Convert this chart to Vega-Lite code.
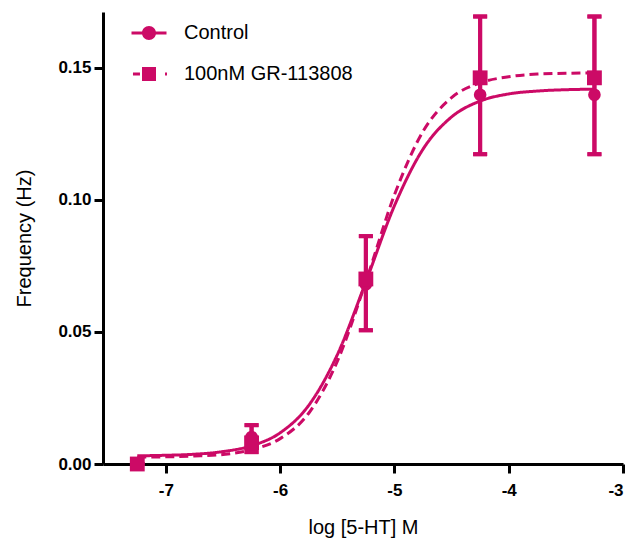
{
  "$schema": "https://vega.github.io/schema/vega-lite/v6.json",
  "width": 520,
  "height": 452,
  "autosize": {"type": "none"},
  "padding": {"left": 103, "top": 12, "right": 7, "bottom": 85},
  "background": "white",
  "config": {
    "view": {"stroke": null},
    "axis": {
      "grid": false,
      "domainColor": "black",
      "domainWidth": 3,
      "tickColor": "black",
      "tickWidth": 3,
      "tickSize": 9,
      "labelFont": "Liberation Sans",
      "labelFontWeight": "bold",
      "labelFontSize": 17,
      "labelColor": "black",
      "titleFont": "Liberation Sans",
      "titleFontWeight": "normal",
      "titleFontSize": 20,
      "titleColor": "black"
    }
  },
  "datasets": {
    "curves": [
      {"logc": -7.25, "freq": 0.0031, "series": "Control"},
      {"logc": -7.0, "freq": 0.0033, "series": "Control"},
      {"logc": -6.75, "freq": 0.0037, "series": "Control"},
      {"logc": -6.5, "freq": 0.0047, "series": "Control"},
      {"logc": -6.25, "freq": 0.0069, "series": "Control"},
      {"logc": -6.0, "freq": 0.0118, "series": "Control"},
      {"logc": -5.75, "freq": 0.0222, "series": "Control"},
      {"logc": -5.5, "freq": 0.0413, "series": "Control"},
      {"logc": -5.25, "freq": 0.0689, "series": "Control"},
      {"logc": -5.0, "freq": 0.0977, "series": "Control"},
      {"logc": -4.75, "freq": 0.1191, "series": "Control"},
      {"logc": -4.5, "freq": 0.1313, "series": "Control"},
      {"logc": -4.25, "freq": 0.1373, "series": "Control"},
      {"logc": -4.0, "freq": 0.1400, "series": "Control"},
      {"logc": -3.75, "freq": 0.1411, "series": "Control"},
      {"logc": -3.5, "freq": 0.1416, "series": "Control"},
      {"logc": -3.25, "freq": 0.1418, "series": "Control"},
      {"logc": -7.25, "freq": 0.0026, "series": "100nM GR-113808"},
      {"logc": -7.0, "freq": 0.0027, "series": "100nM GR-113808"},
      {"logc": -6.75, "freq": 0.0030, "series": "100nM GR-113808"},
      {"logc": -6.5, "freq": 0.0036, "series": "100nM GR-113808"},
      {"logc": -6.25, "freq": 0.0054, "series": "100nM GR-113808"},
      {"logc": -6.0, "freq": 0.0096, "series": "100nM GR-113808"},
      {"logc": -5.75, "freq": 0.0192, "series": "100nM GR-113808"},
      {"logc": -5.5, "freq": 0.0388, "series": "100nM GR-113808"},
      {"logc": -5.25, "freq": 0.0690, "series": "100nM GR-113808"},
      {"logc": -5.0, "freq": 0.1018, "series": "100nM GR-113808"},
      {"logc": -4.75, "freq": 0.1258, "series": "100nM GR-113808"},
      {"logc": -4.5, "freq": 0.1386, "series": "100nM GR-113808"},
      {"logc": -4.25, "freq": 0.1442, "series": "100nM GR-113808"},
      {"logc": -4.0, "freq": 0.1465, "series": "100nM GR-113808"},
      {"logc": -3.75, "freq": 0.1475, "series": "100nM GR-113808"},
      {"logc": -3.5, "freq": 0.1478, "series": "100nM GR-113808"},
      {"logc": -3.25, "freq": 0.1480, "series": "100nM GR-113808"}
    ],
    "points": [
      {"logc": -7.25, "freq": 0.0, "lo": 0.0, "hi": 0.0, "series": "Control"},
      {"logc": -6.25, "freq": 0.0102, "lo": 0.0045, "hi": 0.0147, "series": "Control"},
      {"logc": -5.25, "freq": 0.068, "lo": 0.0506, "hi": 0.0862, "series": "Control"},
      {"logc": -4.25, "freq": 0.1397, "lo": 0.1172, "hi": 0.1693, "series": "Control"},
      {"logc": -3.25, "freq": 0.1397, "lo": 0.1172, "hi": 0.1693, "series": "Control"},
      {"logc": -7.25, "freq": 0.0, "lo": 0.0, "hi": 0.0, "series": "100nM GR-113808"},
      {"logc": -6.25, "freq": 0.008, "lo": 0.0045, "hi": 0.0147, "series": "100nM GR-113808"},
      {"logc": -5.25, "freq": 0.070, "lo": 0.0506, "hi": 0.0862, "series": "100nM GR-113808"},
      {"logc": -4.25, "freq": 0.1461, "lo": 0.1172, "hi": 0.1693, "series": "100nM GR-113808"},
      {"logc": -3.25, "freq": 0.1461, "lo": 0.1172, "hi": 0.1693, "series": "100nM GR-113808"}
    ]
  },
  "encoding": {
    "x": {
      "field": "logc",
      "type": "quantitative",
      "scale": {"domain": [-7.55, -3], "nice": false, "zero": false},
      "axis": {
        "title": "log [5-HT] M",
        "values": [-7, -6, -5, -4, -3],
        "labelExpr": "'' + datum.value",
        "labelPadding": 9,
        "titlePadding": 19
      }
    },
    "y": {
      "field": "freq",
      "type": "quantitative",
      "scale": {"domain": [0, 0.171], "nice": false, "zero": false},
      "axis": {
        "title": "Frequency (Hz)",
        "values": [0, 0.05, 0.1, 0.15],
        "format": ".2f",
        "labelPadding": 3,
        "titlePadding": 23
      }
    }
  },
  "layer": [
    {
      "data": {"name": "curves"},
      "mark": {"type": "line", "color": "#CC0A66", "strokeWidth": 3, "interpolate": "monotone"},
      "encoding": {
        "detail": {"field": "series"},
        "strokeDash": {
          "field": "series",
          "type": "nominal",
          "scale": {"domain": ["Control", "100nM GR-113808"], "range": [[1, 0], [9, 5]]},
          "legend": null
        }
      }
    },
    {
      "data": {"name": "points"},
      "mark": {"type": "rule", "color": "#CC0A66", "strokeWidth": 4, "opacity": 1},
      "encoding": {
        "y": {"field": "lo", "type": "quantitative"},
        "y2": {"field": "hi"}
      }
    },
    {
      "data": {"name": "points"},
      "mark": {"type": "tick", "orient": "horizontal", "color": "#CC0A66", "size": 14, "thickness": 4, "opacity": 1},
      "encoding": {"y": {"field": "lo", "type": "quantitative"}}
    },
    {
      "data": {"name": "points"},
      "mark": {"type": "tick", "orient": "horizontal", "color": "#CC0A66", "size": 14, "thickness": 4, "opacity": 1},
      "encoding": {"y": {"field": "hi", "type": "quantitative"}}
    },
    {
      "data": {"name": "points"},
      "mark": {"type": "point", "filled": true, "color": "#CC0A66", "opacity": 1},
      "encoding": {
        "shape": {
          "field": "series",
          "type": "nominal",
          "scale": {"domain": ["Control", "100nM GR-113808"], "range": ["circle", "square"]},
          "legend": null
        },
        "size": {
          "field": "series",
          "type": "nominal",
          "scale": {"domain": ["Control", "100nM GR-113808"], "range": [160, 220]},
          "legend": null
        }
      }
    },
    {
      "data": {"name": "points"},
      "mark": {"type": "point", "filled": true, "color": "#CC0A66", "opacity": 0, "size": 196},
      "encoding": {
        "shape": {
          "field": "series",
          "type": "nominal",
          "scale": {
            "domain": ["Control", "100nM GR-113808"],
            "range": [
              "M-2.5,-0.21H2.5V0.21H-2.5ZM1,0A1,1,0,1,1,-1,0A1,1,0,1,1,1,0Z",
              "M-2.29,-0.21H-1.29V0.21H-2.29ZM-1,-1H1V1H-1ZM2.29,-0.21H2.57V0.21H2.29Z"
            ]
          },
          "legend": {
            "title": null,
            "orient": "none",
            "legendX": 36,
            "legendY": 11,
            "padding": 0,
            "symbolSize": 196,
            "symbolOpacity": 1,
            "symbolStrokeWidth": 0,
            "labelFont": "Liberation Sans",
            "labelFontSize": 20,
            "labelColor": "black",
            "labelOffset": 25,
            "labelLimit": 400,
            "rowPadding": 21
          }
        }
      }
    }
  ],
  "resolve": {"scale": {"shape": "independent", "size": "independent"}}
}
